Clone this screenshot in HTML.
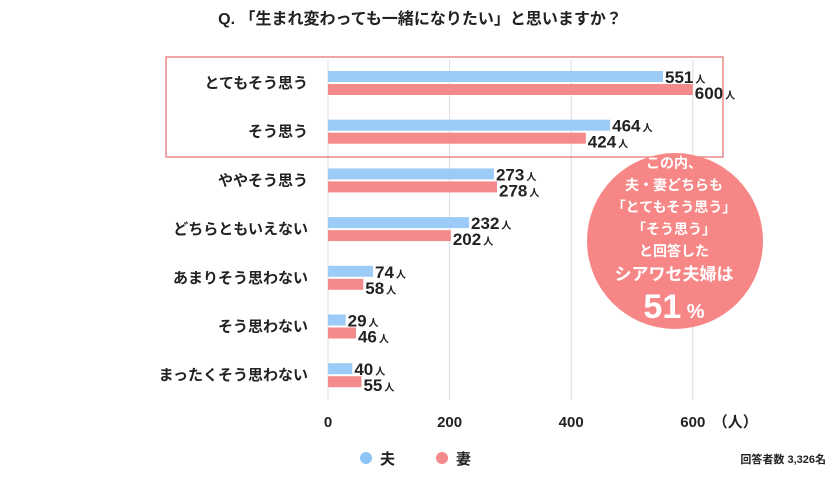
<!DOCTYPE html>
<html><head><meta charset="utf-8"><style>
body{margin:0;background:#fff;width:840px;height:473px;overflow:hidden;font-family:"Liberation Sans","Noto Sans CJK JP",sans-serif}
</style></head><body>
<svg width="840" height="473" xmlns="http://www.w3.org/2000/svg" font-family="'Liberation Sans','Noto Sans CJK JP',sans-serif" id="chart">
<text x="420" y="24" text-anchor="middle" font-size="16" font-weight="bold" fill="#222">Q. 「生まれ変わっても一緒になりたい」と思いますか？</text>
<g id="grid"></g>
<g id="bars"></g>
<rect x="166" y="57" width="557" height="100" fill="none" stroke="#e88a8a" stroke-width="1.5"/>
<g>
<circle cx="675" cy="241" r="88" fill="#f78787"/>
<g fill="#fff" font-weight="bold" text-anchor="middle" font-size="14">
<text x="674" y="168">この内、</text>
<text x="674" y="190">夫・妻どちらも</text>
<text x="674" y="212">「とてもそう思う」</text>
<text x="674" y="234">「そう思う」</text>
<text x="674" y="256">と回答した</text>
<text x="674" y="280" font-size="17">シアワセ夫婦は</text>
<text x="674" y="318" font-size="34">51<tspan font-size="20"> %</tspan></text>
</g></g>
<g id="legend">
<circle cx="366" cy="458" r="6" fill="#8ec5f5"/>
<text x="380" y="464" font-size="15" font-weight="bold" fill="#222">夫</text>
<circle cx="442" cy="458" r="6" fill="#f58a8a"/>
<text x="456" y="464" font-size="15" font-weight="bold" fill="#222">妻</text>
</g>
<text x="826" y="463" text-anchor="end" font-size="11" font-weight="bold" fill="#222">回答者数 3,326名</text>
</svg>
<script>
const categories=["とてもそう思う","そう思う","ややそう思う","どちらともいえない","あまりそう思わない","そう思わない","まったくそう思わない"];
const husband=[551,464,273,232,74,29,40];
const wife=[600,424,278,202,58,46,55];
const ticks=[0,200,400,600];
const NS="http://www.w3.org/2000/svg";
const x0=328,scale=0.608,rowTop=83,rowStep=48.7,barH=11;
const xs=v=>x0+v*scale;
function mk(tag,attrs,parent,text){const e=document.createElementNS(NS,tag);for(const k in attrs)e.setAttribute(k,attrs[k]);if(text!==undefined)e.textContent=text;parent.appendChild(e);return e;}
const grid=document.getElementById('grid'),bars=document.getElementById('bars');
ticks.forEach(t=>{
 const l=mk('line',{x1:xs(t),x2:xs(t),y1:60,y2:400,stroke:'#ddd','stroke-width':1},grid);
 
 
 const tx=mk('text',{x:xs(t),y:427,'text-anchor':'middle','font-size':15,'font-weight':'bold',fill:'#222'},grid,String(t));
 
 
});
const unit=mk('text',{x:xs(600)+20,y:427,'font-size':15,'font-weight':'bold',fill:'#222'},grid,'（人）');


categories.forEach((c,i)=>{
 const cy=rowTop+i*rowStep;
 const lab=mk('text',{x:308,y:cy+5,'text-anchor':'end','font-size':15,'font-weight':'bold',fill:'#222'},bars,c);
 
 
 const b1=mk('rect',{x:x0,y:cy-barH-1,width:husband[i]*scale,height:barH,fill:'#9ccbf7'},bars);
 
 
 const b2=mk('rect',{x:x0,y:cy+1,width:wife[i]*scale,height:barH,fill:'#f58a8a'},bars);
 
 
 const v1=mk('text',{x:xs(husband[i])+2,y:cy,'font-size':17,'font-weight':'bold',fill:'#222'},bars);
 v1.innerHTML=husband[i]+'<tspan font-size="10" dx="2">人</tspan>';
 
 
 const v2=mk('text',{x:xs(wife[i])+2,y:cy+16,'font-size':17,'font-weight':'bold',fill:'#222'},bars);
 v2.innerHTML=wife[i]+'<tspan font-size="10" dx="2">人</tspan>';
 
 
});
</script>
</body></html>
